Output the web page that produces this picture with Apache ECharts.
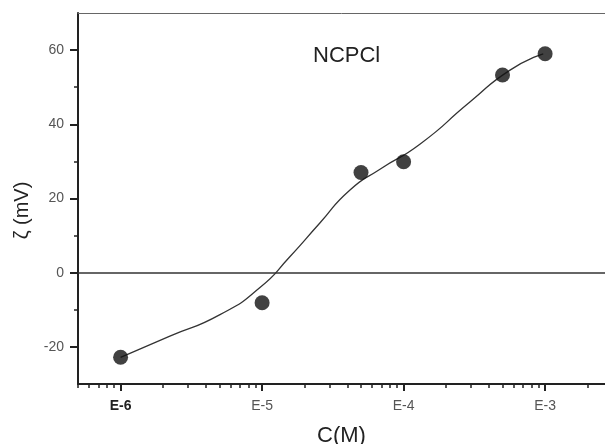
<!DOCTYPE html>
<html>
<head>
<meta charset="utf-8">
<script src="https://cdn.jsdelivr.net/npm/echarts@6/dist/echarts.min.js"></script>
<style>
	html, body { margin: 0; padding: 0; background: #fff; }
	#myChart { width: 605px; height: 444px; }
</style>
</head>
<body>
<div id="myChart"></div>
<script>
	// measured points, C in mol/L, zeta in mV
	const concX = [1e-6, 1e-5, 5e-5, 1e-4, 5e-4, 1e-3]
	const zetaY = [-22.8, -8.1, 27.0, 29.9, 53.3, 59.0]

	// fitted curve
	const curveX = [1e-6, 2.23e-6, 5.04e-6, 9.66e-6, 1.57e-5, 2.56e-5, 4.18e-5, 6.81e-5, 1.31e-4, 2.94e-4, 5.65e-4, 9.7e-4]
	const curveY = [-22.8, -17.1, -11.3, -4.0, 4.3, 13.4, 22.3, 27.9, 34.7, 46.0, 54.6, 59.0]

	const xMajor = [1e-6, 1e-5, 1e-4, 1e-3]
	const xMajorLabels = ['E-6', 'E-5', 'E-4', 'E-3']
	const xMinor = [5e-7, 6e-7, 7e-7, 8e-7, 9e-7,
		2e-6, 3e-6, 4e-6, 5e-6, 6e-6, 7e-6, 8e-6, 9e-6,
		2e-5, 3e-5, 4e-5, 5e-5, 6e-5, 7e-5, 8e-5, 9e-5,
		2e-4, 3e-4, 4e-4, 5e-4, 6e-4, 7e-4, 8e-4, 9e-4,
		2e-3]
	const yMajor = [-20, 0, 20, 40, 60]
	const yMinor = [-10, 10, 30, 50]

	const xMin = 5e-7
	const xMax = 2.65e-3

	const font = 'Liberation Sans, Arial, sans-serif'

	let myChart = echarts.init(document.getElementById('myChart'))
	let option = {
		animation: false,
		backgroundColor: '#ffffff',
		title: {
			text: 'NCPCl',
			left: 308,
			top: 40,
			textStyle: {
				fontFamily: font,
				fontSize: 22,
				fontWeight: 'normal',
				color: '#222'
			}
		},
		grid: {
			left: 78,
			right: 0,
			top: 13,
			bottom: 60,
			containLabel: false,
			outerBoundsMode: 'none'
		},
		xAxis: [{
			type: 'log',
			logBase: 10,
			min: xMin,
			max: xMax,
			position: 'bottom',
			axisLine: {
				onZero: false,
				lineStyle: { color: '#222', width: 2 }
			},
			axisTick: {
				customValues: xMajor,
				length: 7,
				lineStyle: { color: '#222', width: 2 }
			},
			axisLabel: {
				customValues: xMajor,
				margin: 15,
				fontFamily: font,
				fontSize: 14,
				color: '#555',
				formatter: function (v) {
					let i = xMajor.findIndex(m => Math.abs(Math.log10(m) - Math.log10(v)) < 0.01)
					if (i < 0) return ''
					return i === 0 ? '{b|' + xMajorLabels[i] + '}' : xMajorLabels[i]
				},
				rich: {
					b: { fontFamily: font, fontSize: 14, fontWeight: 'bold', color: '#222' }
				}
			},
			splitLine: { show: false },
			name: 'C(M)',
			nameLocation: 'middle',
			nameGap: 41,
			nameTextStyle: { fontFamily: font, fontSize: 22, color: '#222' }
		}, {
			type: 'log',
			logBase: 10,
			min: xMin,
			max: xMax,
			position: 'bottom',
			axisLine: { show: false, onZero: false },
			axisTick: {
				customValues: xMinor,
				length: 4,
				lineStyle: { color: '#222', width: 1.5 }
			},
			axisLabel: { show: false },
			splitLine: { show: false }
		}, {
			type: 'log',
			logBase: 10,
			min: xMin,
			max: xMax,
			position: 'top',
			axisLine: {
				onZero: false,
				lineStyle: { color: '#666', width: 1 }
			},
			axisTick: { show: false },
			axisLabel: { show: false },
			splitLine: { show: false }
		}],
		yAxis: [{
			type: 'value',
			min: -30,
			max: 70,
			position: 'left',
			axisLine: {
				show: true,
				onZero: false,
				lineStyle: { color: '#222', width: 2 }
			},
			axisTick: {
				show: true,
				customValues: yMajor,
				length: 8,
				lineStyle: { color: '#222', width: 2 }
			},
			axisLabel: {
				customValues: yMajor,
				margin: 14,
				fontFamily: font,
				fontSize: 14,
				color: '#555'
			},
			splitLine: { show: false },
			name: 'ζ (mV)',
			nameLocation: 'middle',
			nameGap: 38,
			nameTextStyle: { fontFamily: font, fontSize: 20, color: '#222', padding: [0, 24, 0, 0] }
		}, {
			type: 'value',
			min: -30,
			max: 70,
			position: 'left',
			axisLine: { show: false, onZero: false },
			axisTick: {
				show: true,
				customValues: yMinor,
				length: 4,
				lineStyle: { color: '#222', width: 1.5 }
			},
			axisLabel: { show: false },
			splitLine: { show: false }
		}],
		series: [{
			name: 'fit',
			type: 'line',
			xAxisIndex: 0,
			yAxisIndex: 0,
			data: curveX.map((x, i) => [x, curveY[i]]),
			smooth: 0.6,
			showSymbol: false,
			lineStyle: { color: '#333', width: 1.3 },
			markLine: {
				silent: true,
				symbol: 'none',
				label: { show: false },
				lineStyle: { color: '#333', width: 1.5, type: 'solid' },
				data: [{ yAxis: 0 }]
			},
			z: 2
		}, {
			name: 'NCPCl',
			type: 'scatter',
			xAxisIndex: 0,
			yAxisIndex: 0,
			data: concX.map((x, i) => [x, zetaY[i]]),
			symbol: 'circle',
			symbolSize: 15,
			itemStyle: { color: '#111' },
			z: 3
		}]
	};
	myChart.setOption(option);
</script>
</body>
</html>
